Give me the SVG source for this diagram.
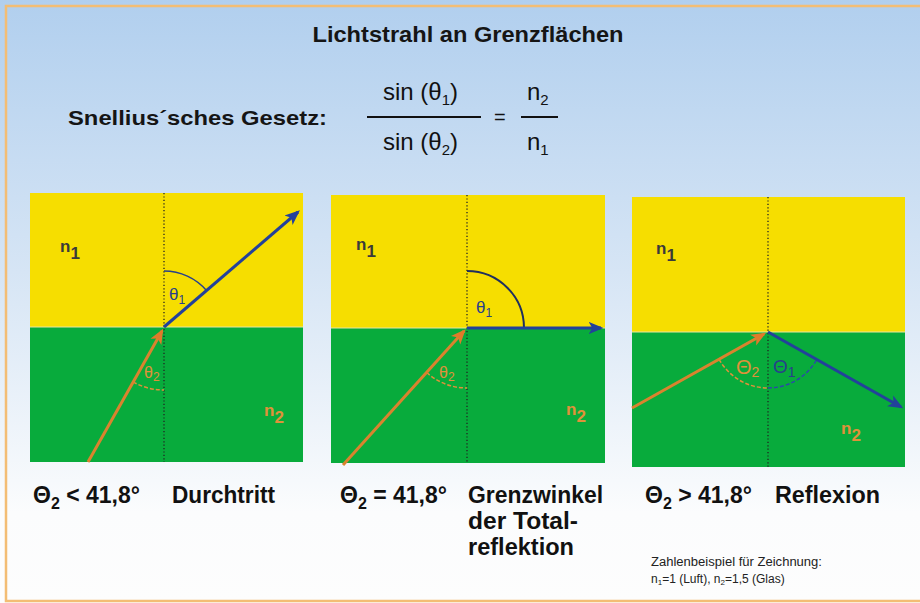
<svg xmlns="http://www.w3.org/2000/svg" width="920" height="603" viewBox="0 0 920 603">
<defs>
<linearGradient id="bg" x1="0" y1="0" x2="0" y2="1">
<stop offset="0" stop-color="#b1cfee"/>
<stop offset="0.45" stop-color="#d6e5f5"/>
<stop offset="0.85" stop-color="#fbfcfd"/>
<stop offset="1" stop-color="#fdfdfd"/>
</linearGradient>
<marker id="ab" viewBox="0 0 12 10" refX="10" refY="5" markerWidth="5" markerHeight="5" orient="auto" markerUnits="strokeWidth">
<path d="M0,0 L12,5 L0,10 L3,5 z" fill="#23419b"/>
</marker>
<marker id="ao" viewBox="0 0 12 10" refX="10" refY="5" markerWidth="5" markerHeight="5" orient="auto" markerUnits="strokeWidth">
<path d="M0,0 L12,5 L0,10 L3,5 z" fill="#e07a2a"/>
</marker>
</defs>
<style>
text{font-family:"Liberation Sans",Arial,sans-serif;}
.yel{fill:#f6de00;}
.grn{fill:#08ab3c;}
.dot{stroke:#222;stroke-width:1.3;stroke-dasharray:1.2 2.2;fill:none;}
.blue{stroke:#23419b;stroke-width:3;fill:none;}
.ora{stroke:#d9832e;stroke-width:3;fill:none;}
.arcN{stroke:#27408b;stroke-width:1.5;fill:none;}
.arcD{stroke:#1f2f5e;stroke-width:2;fill:none;}
.arcO{stroke:#e0913a;stroke-width:1.5;fill:none;stroke-dasharray:4 2;}
.arcB{stroke:#2a4aa8;stroke-width:1.5;fill:none;stroke-dasharray:4 2;}
.n1{fill:#3a3a3a;font-weight:bold;font-size:17px;}
.n2{fill:#e0913a;font-weight:bold;font-size:17px;}
.tb{fill:#27408b;}
.to{fill:#e0913a;}
.lab{fill:#111;font-weight:bold;font-size:23px;}
.frm{fill:#111;}
.note{fill:#222;font-size:12px;}
</style>
<rect x="0" y="0" width="920" height="603" fill="url(#bg)"/>
<path d="M921,6 L6,6 L6,601 L921,601" fill="none" stroke="#f3bd74" stroke-width="2.5"/>

<g id="title">
<text x="468" y="42" text-anchor="middle" font-size="22" font-weight="bold" fill="#151515" textLength="311" lengthAdjust="spacingAndGlyphs">Lichtstrahl an Grenzflächen</text>
</g>
<g id="formula">
<text x="68" y="125" font-size="21" font-weight="bold" fill="#151515" textLength="259" lengthAdjust="spacingAndGlyphs">Snellius´sches Gesetz:</text>
<text x="383" y="100" class="frm" font-size="24">sin (θ<tspan font-size="15" dy="5">1</tspan><tspan dy="-5">)</tspan></text>
<line x1="367" y1="117" x2="481" y2="117" stroke="#111" stroke-width="2"/>
<text x="383" y="150" class="frm" font-size="24">sin (θ<tspan font-size="15" dy="5">2</tspan><tspan dy="-5">)</tspan></text>
<text x="494" y="124" class="frm" font-size="20">=</text>
<text x="527" y="100" class="frm" font-size="24">n<tspan font-size="15" dy="5">2</tspan></text>
<line x1="521" y1="117" x2="558" y2="117" stroke="#111" stroke-width="2"/>
<text x="527" y="150" class="frm" font-size="24">n<tspan font-size="15" dy="5">1</tspan></text>
</g>

<g id="panel1">
<rect class="yel" x="30" y="193" width="273" height="134"/>
<rect class="grn" x="30" y="327" width="273" height="135"/>
<line x1="30" y1="327" x2="303" y2="327" stroke="#e8e6a0" stroke-width="1"/>
<line class="dot" x1="164" y1="193" x2="164" y2="462"/>
<path class="arcN" d="M164,271 A56,56 0 0 1 206.5,290.5"/>
<path class="arcO" d="M133.1,381.9 A63,63 0 0 0 164,390"/>
<text x="169" y="300" class="tb" font-size="17">θ<tspan font-size="12" dy="4">1</tspan></text>
<text x="144" y="378" class="to" font-size="16">θ<tspan font-size="12" dy="3">2</tspan></text>
<text x="60" y="252" class="n1">n<tspan dy="7">1</tspan></text>
<text x="264" y="416" class="n2">n<tspan dy="7">2</tspan></text>
</g>

<g id="panel2">
<rect class="yel" x="331" y="195" width="274" height="133"/>
<rect class="grn" x="331" y="328" width="274" height="135"/>
<line x1="331" y1="328" x2="605" y2="328" stroke="#e8e6a0" stroke-width="1"/>
<line class="dot" x1="467" y1="195" x2="467" y2="463"/>
<path class="arcD" d="M467,271 A57,57 0 0 1 524,328"/>
<path class="arcO" d="M426.7,372.5 A60,60 0 0 0 467,388"/>
<text x="476" y="313" class="tb" font-size="17" fill="#1f2f5e">θ<tspan font-size="12" dy="4">1</tspan></text>
<text x="439" y="378" class="to" font-size="16">θ<tspan font-size="12" dy="3">2</tspan></text>
<text x="356" y="250" class="n1">n<tspan dy="7">1</tspan></text>
<text x="566" y="415" class="n2">n<tspan dy="7">2</tspan></text>
</g>

<g id="panel3">
<rect class="yel" x="632" y="197" width="273" height="135"/>
<rect class="grn" x="632" y="332" width="273" height="135"/>
<line x1="632" y1="332" x2="905" y2="332" stroke="#e8e6a0" stroke-width="1"/>
<line class="dot" x1="768" y1="197" x2="768" y2="467"/>
<path class="arcO" d="M719.1,359.3 A56,56 0 0 0 768,388"/>
<path class="arcB" d="M768,388 A56,56 0 0 0 816.7,359.6"/>
<text x="736" y="374" class="to" font-size="20">Θ<tspan font-size="14" dy="3">2</tspan></text>
<text x="773" y="373" class="tb" font-size="19" fill="#2a4aa8">Θ<tspan font-size="14" dy="4">1</tspan></text>
<text x="656" y="254" class="n1">n<tspan dy="7">1</tspan></text>
<text x="841" y="434" class="n2">n<tspan dy="7">2</tspan></text>
</g>

<g id="connectors">
<line class="blue" x1="164" y1="327" x2="298" y2="212" marker-end="url(#ab)"/>
<line class="ora" x1="88" y1="462" x2="162" y2="331" marker-end="url(#ao)"/>
<line class="blue" x1="467" y1="328" x2="601" y2="328" marker-end="url(#ab)"/>
<line class="ora" x1="343" y1="465" x2="464" y2="331" marker-end="url(#ao)"/>
<line class="ora" x1="632" y1="408" x2="764" y2="334" marker-end="url(#ao)"/>
<line class="blue" x1="768" y1="332" x2="901" y2="407" marker-end="url(#ab)"/>
</g>

<g id="labels">
<text x="33" y="503" class="lab">Θ<tspan font-size="16" dy="6">2</tspan><tspan dy="-6"> &lt; 41,8°</tspan></text>
<text x="172" y="503" class="lab" textLength="103" lengthAdjust="spacingAndGlyphs">Durchtritt</text>
<text x="340" y="503" class="lab">Θ<tspan font-size="16" dy="6">2</tspan><tspan dy="-6"> = 41,8°</tspan></text>
<text x="468" y="503" class="lab" textLength="135" lengthAdjust="spacingAndGlyphs">Grenzwinkel</text>
<text x="468" y="529" class="lab" textLength="110" lengthAdjust="spacingAndGlyphs">der Total-</text>
<text x="468" y="555" class="lab" textLength="106" lengthAdjust="spacingAndGlyphs">reflektion</text>
<text x="645" y="503" class="lab">Θ<tspan font-size="16" dy="6">2</tspan><tspan dy="-6"> &gt; 41,8°</tspan></text>
<text x="775" y="503" class="lab" textLength="105" lengthAdjust="spacingAndGlyphs">Reflexion</text>
<text x="651" y="566" class="note" textLength="171" lengthAdjust="spacingAndGlyphs">Zahlenbeispiel für Zeichnung:</text>
<text x="651" y="583" class="note">n<tspan font-size="8" dy="2">1</tspan><tspan dy="-2">=1 (Luft), n</tspan><tspan font-size="8" dy="2">2</tspan><tspan dy="-2">=1,5 (Glas)</tspan></text>
</g>
</svg>
